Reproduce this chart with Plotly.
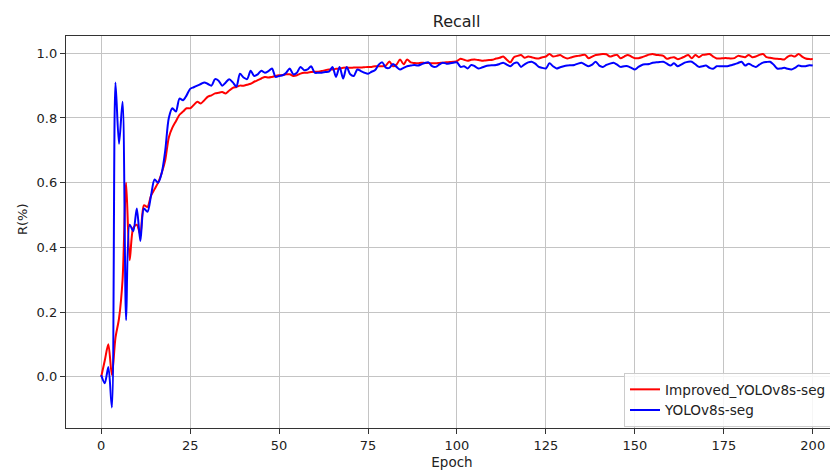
import plotly.graph_objects as go

epochs = list(range(0, 201))

improved_recall = [
    0.000, 0.050, 0.100, 0.005, 0.120, 0.180, 0.300, 0.600, 0.360, 0.460,
    0.470, 0.440, 0.530, 0.525, 0.560, 0.580, 0.600, 0.630, 0.670, 0.740,
    0.770, 0.790, 0.810, 0.820, 0.830, 0.830, 0.840, 0.850, 0.845, 0.855,
    0.866, 0.870, 0.876, 0.878, 0.880, 0.876, 0.885, 0.893, 0.896, 0.900,
    0.900, 0.903, 0.906, 0.912, 0.917, 0.922, 0.927, 0.925, 0.927, 0.930,
    0.932, 0.933, 0.935, 0.935, 0.930, 0.932, 0.937, 0.940, 0.940, 0.942,
    0.943, 0.943, 0.945, 0.948, 0.950, 0.950, 0.952, 0.953, 0.955, 0.956,
    0.955, 0.956, 0.956, 0.956, 0.957, 0.958, 0.958, 0.960, 0.960, 0.960,
    0.962, 0.975, 0.960, 0.965, 0.981, 0.966, 0.981, 0.972, 0.970, 0.969,
    0.971, 0.970, 0.970, 0.969, 0.969, 0.970, 0.971, 0.972, 0.973, 0.974,
    0.976, 0.983, 0.980, 0.977, 0.980, 0.981, 0.979, 0.977, 0.978, 0.979,
    0.980, 0.984, 0.986, 0.990, 0.980, 0.972, 0.988, 0.992, 0.995, 0.986,
    0.990, 0.988, 0.985, 0.984, 0.988, 0.990, 0.998, 0.990, 0.992, 0.995,
    0.988, 0.984, 0.987, 0.990, 0.992, 0.994, 0.995, 0.985, 0.990, 0.995,
    0.996, 0.998, 0.997, 0.990, 0.993, 0.995, 0.985, 0.990, 0.995, 0.990,
    0.985, 0.985, 0.988, 0.992, 0.996, 0.998, 0.995, 0.994, 0.992, 0.983,
    0.986, 0.988, 0.982, 0.985, 0.990, 0.995, 0.985, 0.995, 0.988, 0.995,
    0.996, 0.998, 0.990, 0.984, 0.984, 0.985, 0.985, 0.984, 0.985, 0.992,
    0.990, 0.988, 0.995, 0.988, 0.990, 0.995, 0.998, 0.988, 0.986, 0.984,
    0.983, 0.982, 0.981, 0.990, 0.993, 0.990, 0.998, 0.990, 0.984, 0.982,
    0.982,
]

baseline_recall = [
    0.005, -0.020, 0.030, -0.095, 0.910, 0.720, 0.850, 0.175, 0.470, 0.450,
    0.520, 0.420, 0.520, 0.510, 0.560, 0.610, 0.600, 0.630, 0.700, 0.800,
    0.830, 0.820, 0.860, 0.855, 0.870, 0.890, 0.895, 0.900, 0.905, 0.910,
    0.905, 0.900, 0.920, 0.915, 0.900, 0.910, 0.920, 0.910, 0.897, 0.937,
    0.925, 0.920, 0.946, 0.930, 0.935, 0.946, 0.940, 0.945, 0.953, 0.927,
    0.930, 0.932, 0.940, 0.953, 0.935, 0.940, 0.958, 0.948, 0.950, 0.960,
    0.940, 0.940, 0.940, 0.942, 0.943, 0.958, 0.927, 0.958, 0.922, 0.958,
    0.935, 0.930, 0.950, 0.945, 0.940, 0.937, 0.943, 0.948, 0.965, 0.972,
    0.956, 0.955, 0.967, 0.958, 0.950, 0.955, 0.960, 0.962, 0.964, 0.962,
    0.966, 0.970, 0.972, 0.960, 0.958, 0.965, 0.971, 0.968, 0.969, 0.971,
    0.972, 0.958, 0.960, 0.953, 0.964, 0.960, 0.953, 0.956, 0.960, 0.962,
    0.963, 0.964, 0.967, 0.971, 0.965, 0.960, 0.969, 0.971, 0.958, 0.966,
    0.972, 0.974, 0.968, 0.958, 0.955, 0.953, 0.969, 0.960, 0.953, 0.957,
    0.960, 0.962, 0.963, 0.964, 0.968, 0.971, 0.965, 0.960, 0.965, 0.974,
    0.962, 0.958, 0.964, 0.968, 0.971, 0.965, 0.958, 0.960, 0.960, 0.955,
    0.950, 0.958, 0.964, 0.966, 0.967, 0.971, 0.972, 0.973, 0.974, 0.968,
    0.962, 0.969, 0.960, 0.965, 0.971, 0.974, 0.974, 0.966, 0.958, 0.960,
    0.962, 0.955, 0.952, 0.960, 0.960, 0.960, 0.960, 0.963, 0.966, 0.970,
    0.974, 0.962, 0.968, 0.962, 0.958, 0.965, 0.971, 0.973, 0.974, 0.965,
    0.953, 0.953, 0.955, 0.952, 0.950, 0.955, 0.962, 0.960, 0.960, 0.963,
    0.962,
]

x_ticks = [0, 25, 50, 75, 100, 125, 150, 175, 200]
y_ticks = [0.0, 0.2, 0.4, 0.6, 0.8, 1.0]
y_tick_text = ["0.0", "0.2", "0.4", "0.6", "0.8", "1.0"]

FONT = "DejaVu Sans"
TXT = "#222222"

# the page body adds an 8 px offset; the figure is sized to compensate
W, H = 830, 462
ML, MT, MB = 58, 28, 42
PW, PH = W - ML, H - MT - MB

fig = go.Figure()
fig.add_trace(go.Scatter(
    x=epochs, y=improved_recall, mode="lines", name="Improved_YOLOv8s-seg",
    line=dict(color="#ff0000", width=2, shape="spline", smoothing=0.8),
))
fig.add_trace(go.Scatter(
    x=epochs, y=baseline_recall, mode="lines", name="YOLOv8s-seg",
    line=dict(color="#0000ff", width=2, shape="spline", smoothing=0.8),
))

fig.update_layout(
    width=W, height=H,
    margin=dict(l=ML, r=0, t=MT, b=MB, pad=0),
    paper_bgcolor="white", plot_bgcolor="white",
    font=dict(family=FONT, size=13, color=TXT),
    title=dict(text="Recall", x=0.506, xref="paper", xanchor="center",
               y=1 - 13 / H, yref="container", yanchor="middle",
               font=dict(family=FONT, size=16, color=TXT)),
    showlegend=True,
    legend=dict(x=(616 - ML) / PW, xanchor="left", y=(PH + MT - 365) / PH, yanchor="top",
                bgcolor="rgba(255,255,255,0.85)", bordercolor="#cccccc", borderwidth=1,
                font=dict(family=FONT, size=13.6, color=TXT),
                tracegroupgap=0, itemwidth=30),
    annotations=[
        dict(text="R(%)", x=(14 - ML) / PW, xref="paper", xanchor="center",
             y=(PH + MT - 211) / PH, yref="paper", yanchor="middle",
             showarrow=False, textangle=-90,
             font=dict(family=FONT, size=13, color=TXT)),
    ],
)

fig.update_xaxes(
    range=[-9.9, 207.1], tickmode="array", tickvals=x_ticks,
    ticks="outside", ticklen=5, tickwidth=1, tickcolor="#333333",
    showgrid=True, gridcolor="#c4c4c4", gridwidth=1,
    showline=True, linecolor="#333333", linewidth=1.3, mirror=True,
    zeroline=False,
    title=dict(text="Epoch", standoff=6, font=dict(family=FONT, size=13.5, color=TXT)),
    tickfont=dict(family=FONT, size=13, color=TXT),
)
fig.update_yaxes(
    range=[-0.1586, 1.0535], tickmode="array", tickvals=y_ticks, ticktext=y_tick_text,
    ticks="outside", ticklen=5, tickwidth=1, tickcolor="#333333",
    showgrid=True, gridcolor="#c4c4c4", gridwidth=1,
    showline=True, linecolor="#333333", linewidth=1.3, mirror=False,
    zeroline=False,
    tickfont=dict(family=FONT, size=13, color=TXT),
)

fig.write_html("out.html")
